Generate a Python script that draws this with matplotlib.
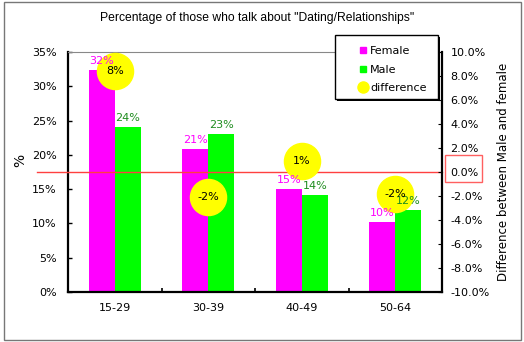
import numpy as np
import matplotlib
matplotlib.use('Agg')
import matplotlib.pyplot as plt
from matplotlib.patches import Rectangle
from matplotlib.lines import Line2D

# data
groups = ['15-29', '30-39', '40-49', '50-64']
female = [32.4, 20.9, 15.0, 10.2]
male = [24.0, 23.0, 14.1, 12.0]
female_lbl = ['32%', '21%', '15%', '10%']
male_lbl = ['24%', '23%', '14%', '12%']
diff = [8.4, -2.1, 0.9, -1.8]
diff_lbl = ['8%', '-2%', '1%', '-2%']

plt.rcParams['font.family'] = ['DejaVu Sans']

W, H = 524, 342
fig = plt.figure(figsize=(W / 100, H / 100), dpi=100)
ax = fig.add_axes([68 / W, 1 - 292 / H, (442 - 68) / W, (292 - 52) / H])

x = np.arange(len(groups))
bw = 0.28
ax.bar(x - bw / 2, female, bw, color='#ff00ff', zorder=2)
ax.bar(x + bw / 2, male, bw, color='#00ff00', zorder=2)

ax.set_xlim(-0.5, 3.5)
ax.set_ylim(0, 35)
ax.set_yticks(np.arange(0, 36, 5))
ax.set_yticklabels([f'{v}%' for v in range(0, 36, 5)], fontsize=8)
ax.set_xticks(x)
ax.set_xticklabels(groups, fontsize=8)
ax.set_xticks([0.5, 1.5, 2.5], minor=True)
ax.tick_params(axis='x', which='major', length=0, pad=8)
ax.tick_params(axis='x', which='minor', length=3, direction='in', width=1.2)
ax.tick_params(axis='y', length=3, direction='in', width=1.0, pad=8)
ax.set_ylabel('%', fontsize=10)
ax.yaxis.set_label_coords(-0.11, 0.55)
ax.spines['left'].set_linewidth(1.6)
ax.spines['bottom'].set_linewidth(1.6)
ax.spines['top'].set_color('#888888')
ax.spines['right'].set_visible(False)

ax2 = ax.twinx()
ax2.set_ylim(-10, 10)
ax2.set_yticks(np.arange(-10, 11, 2))
ax2.set_yticklabels([f'{v:.1f}%' for v in np.arange(-10, 11, 2)], fontsize=8)
ax2.tick_params(axis='y', length=3, direction='in', pad=6)
ax2.spines['right'].set_linewidth(1.6)
ax2.spines['top'].set_visible(False)
ax2.spines['left'].set_visible(False)
ax2.spines['bottom'].set_visible(False)
ax2.set_ylabel('Difference between Male and female', fontsize=8.5)
ax2.yaxis.set_label_coords(1.146, 0.5)

ax2.axhline(0, xmin=-0.083, xmax=1.0, color='#ff4040', lw=1, clip_on=False, zorder=1)
ax2.plot(x, diff, 'o', color='#ffff00', markersize=26, zorder=3, linestyle='none')
for i in range(len(groups)):
    ax2.text(x[i], diff[i], diff_lbl[i], ha='center', va='center', fontsize=8, zorder=6)
    # bar labels drawn on top of the circles
    ax2.text(x[i] - bw / 2, female[i] + 0.6, female_lbl[i], color='#ff00ff',
             ha='center', va='bottom', fontsize=8, zorder=5, transform=ax.transData)
    ax2.text(x[i] + bw / 2, male[i] + 0.6, male_lbl[i], color='#1e8c1e',
             ha='center', va='bottom', fontsize=8, zorder=5, transform=ax.transData)

# legend: frame drawn by hand, with a thin black drop shadow
lx0, ly0, lx1, ly1 = 335, 35, 438, 99
fig.patches.append(Rectangle(((lx0 + 1.5) / W, 1 - (ly1 + 1.5) / H), (lx1 - lx0) / W, (ly1 - ly0) / H,
                             transform=fig.transFigure, facecolor='black', edgecolor='none',
                             zorder=20))
fig.patches.append(Rectangle((lx0 / W, 1 - ly1 / H), (lx1 - lx0) / W, (ly1 - ly0) / H,
                             transform=fig.transFigure, facecolor='white', edgecolor='black',
                             lw=1, zorder=21))
handles = [Line2D([], [], marker='s', color='#ff00ff', ls='none', markersize=5),
           Line2D([], [], marker='s', color='#00ff00', ls='none', markersize=5),
           Line2D([], [], marker='o', color='#ffff00', ls='none', markersize=8)]
leg = fig.legend(handles, ['Female', 'Male', 'difference'], loc='upper left',
                 bbox_to_anchor=(350 / W, 1 - 36 / H), fontsize=8, frameon=False,
                 handlelength=0.6, handletextpad=0.3, labelspacing=0.78,
                 borderpad=0.4)
leg.set_zorder(30)

fig.text(257 / W, 1 - 18 / H, 'Percentage of those who talk about "Dating/Relationships"',
         ha='center', va='center', fontsize=8.7, family='Liberation Sans')

fig.patches.append(Rectangle((445 / W, 1 - 182 / H), 37 / W, 27 / H, transform=fig.transFigure,
                             fill=False, edgecolor='#ff6060', lw=1))
fig.patches.append(Rectangle((4 / W, 2 / H), 517 / W, 338 / H, transform=fig.transFigure,
                             fill=False, edgecolor='#777777', lw=1))

fig.savefig('out.png', dpi=100)
